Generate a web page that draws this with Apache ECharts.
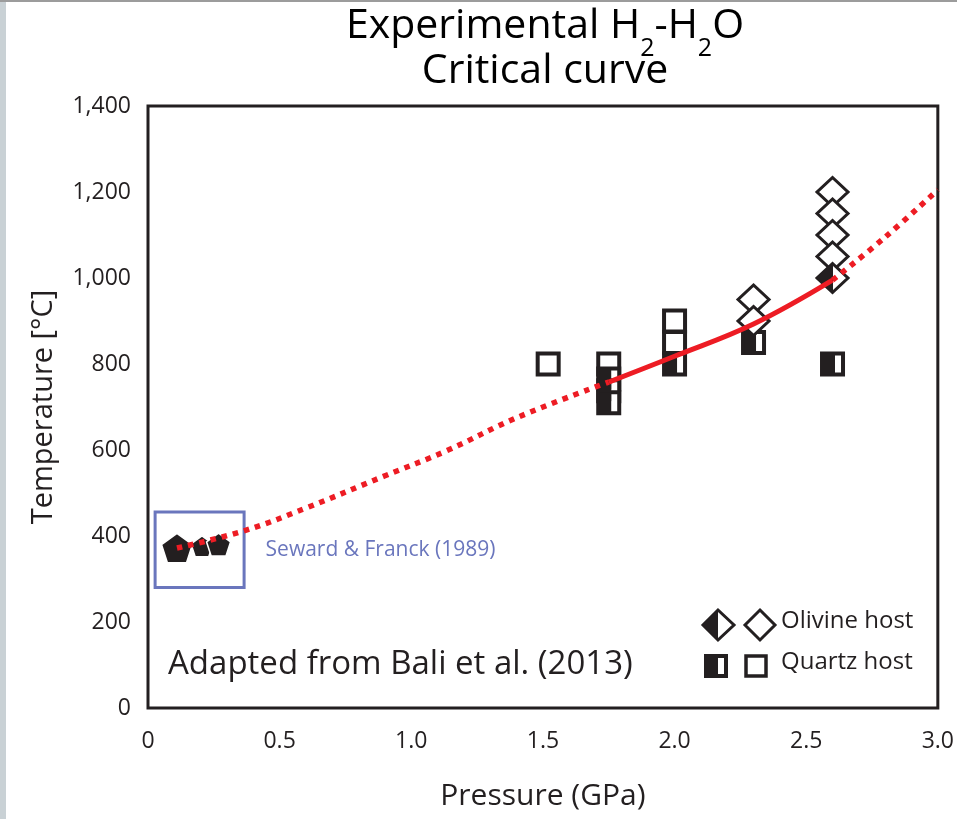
<!DOCTYPE html>
<html>
<head>
<meta charset="utf-8">
<script src="https://cdn.jsdelivr.net/npm/echarts@6/dist/echarts.min.js"></script>
<style>
  html, body { margin: 0; padding: 0; background: #fff; }
  #chart { width: 957px; height: 819px; }
</style>
</head>
<body>
<div id="chart"></div>
<script>
// quartz host, open squares
var quartzOpenP = [1.52, 1.75, 2.0, 2.0];
var quartzOpenT = [800, 800, 900, 850];
// quartz host, half-filled squares
var quartzHalfP = [1.75, 1.75, 1.75, 2.0, 2.3, 2.6];
var quartzHalfT = [765, 738, 710, 800, 850, 800];
// olivine host, open diamonds
var olivineOpenP = [2.3, 2.3, 2.6, 2.6, 2.6, 2.6];
var olivineOpenT = [950, 900, 1200, 1150, 1100, 1050];
// olivine host, half-filled diamonds
var olivineHalfP = [2.6];
var olivineHalfT = [1000];
// Seward & Franck (1989)
var sewardP = [0.11, 0.205, 0.268];
var sewardT = [372, 376, 380];
var sewardSize = [31, 22, 24];
// critical curve
var curveLowP = [0.11, 0.37, 0.6, 0.9, 1.13, 1.4, 1.75];
var curveLowT = [372, 413, 465, 540, 597, 675, 758];
var curveMidP = [1.75, 2.0, 2.3, 2.6];
var curveMidT = [758, 818, 893, 995];
var curveHighP = [2.6, 2.8, 3.0];
var curveHighT = [995, 1095, 1205];

var pressureTicks = ['0', '0.5', '1.0', '1.5', '2.0', '2.5', '3.0'];

var INK = '#231f20';
var RED = '#ed1c24';
var BLUE = '#6a76bd';
var FONT = 'Open Sans';

function pairs(xs, ys) {
    return xs.map(function (x, i) { return [x, ys[i]]; });
}

var openSquare = { symbol: 'rect', symbolSize: 21, itemStyle: { color: '#fff', borderColor: INK, borderWidth: 4, opacity: 1 } };
var openDiamond = { symbol: 'diamond', symbolSize: [31, 29], itemStyle: { color: '#fff', borderColor: INK, borderWidth: 3, opacity: 1 } };
var pentagon = 'path://M0,-1 L0.951,-0.309 L0.588,0.809 L-0.588,0.809 L-0.951,-0.309 Z';

function scatter(name, data, style) {
    return Object.assign({
        name: name,
        type: 'scatter',
        data: data,
        silent: true
    }, style);
}

var chart = echarts.init(document.getElementById('chart'), null, { renderer: 'canvas' });

var option = {
    backgroundColor: '#fff',
    animation: false,
    grid: {
        left: 148, right: 17, top: 106, bottom: 111,
        show: true, borderColor: INK, borderWidth: 3, backgroundColor: 'transparent'
    },
    xAxis: {
        type: 'value',
        min: 0, max: 3, interval: 0.5,
        splitLine: { show: false },
        axisLine: { show: false },
        axisTick: { show: false },
        axisLabel: {
            margin: 22, fontSize: 23, color: INK, fontFamily: FONT,
            formatter: function (v) { return pressureTicks[Math.round(v * 2)]; }
        },
        name: 'Pressure (GPa)',
        nameLocation: 'middle',
        nameGap: 73,
        nameTextStyle: { fontSize: 30, color: INK, fontFamily: FONT }
    },
    yAxis: {
        type: 'value',
        min: 0, max: 1400, interval: 200,
        splitLine: { show: false },
        axisLine: { show: false },
        axisTick: { show: false },
        axisLabel: {
            margin: 17, fontSize: 23, color: INK, fontFamily: FONT,
            formatter: function (v) { return v.toLocaleString('en-US'); }
        },
        name: 'Temperature [°C]',
        nameLocation: 'middle',
        nameGap: 90,
        nameTextStyle: { fontSize: 29, color: INK, fontFamily: FONT }
    },
    series: [
        scatter('seward', pairs(sewardP, sewardT).map(function (d, i) {
            return { value: d, symbolSize: [sewardSize[i], sewardSize[i] * 0.95] };
        }), {
            symbol: pentagon,
            itemStyle: { color: INK, borderColor: '#fff', borderWidth: 1.5, opacity: 1 },
            markArea: {
                silent: true,
                itemStyle: { color: 'transparent', borderColor: BLUE, borderWidth: 3 },
                label: {
                    show: true, position: 'right', distance: 20,
                    color: BLUE, fontSize: 21, fontFamily: FONT
                },
                data: [[{ name: 'Seward & Franck (1989)', coord: [0.027, 456] }, { coord: [0.365, 280] }]]
            }
        }),
        scatter('quartzOpen', pairs(quartzOpenP, quartzOpenT), openSquare),
        scatter('quartzHalf', pairs(quartzHalfP, quartzHalfT), openSquare),
        scatter('quartzHalfFill', pairs(quartzHalfP, quartzHalfT), {
            symbol: 'rect', symbolSize: [12, 21], symbolOffset: [-3.5, 0],
            itemStyle: { color: INK, opacity: 1 }
        }),
        scatter('olivineOpen', pairs(olivineOpenP, olivineOpenT), openDiamond),
        scatter('olivineHalf', pairs(olivineHalfP, olivineHalfT), openDiamond),
        scatter('olivineHalfFill', pairs(olivineHalfP, olivineHalfT), {
            symbol: 'path://M10,0 L0,10 L10,20 Z', symbolSize: [17, 31], symbolOffset: [-8, 0],
            itemStyle: { color: INK, opacity: 1 }
        }),
        {
            type: 'line', data: pairs(curveLowP, curveLowT), smooth: 0.4, symbol: 'none', silent: true,
            lineStyle: { color: RED, width: 5.5, type: [5.5, 6], cap: 'butt' }
        },
        {
            type: 'line', data: pairs(curveMidP, curveMidT), smooth: 0.4, symbol: 'none', silent: true,
            lineStyle: { color: RED, width: 5 }
        },
        {
            type: 'line', data: pairs(curveHighP, curveHighT), smooth: 0.4, symbol: 'none', silent: true,
            lineStyle: { color: RED, width: 5.5, type: [5.5, 6], cap: 'butt' }
        }
    ],
    graphic: [
        // page edge strips
        { type: 'rect', left: 0, top: 0, shape: { width: 6, height: 819 }, style: { fill: '#c9d1d5' }, silent: true },
        { type: 'rect', left: 0, top: 0, shape: { width: 957, height: 2 }, style: { fill: '#9c9c9c' }, silent: true },
        // title
        {
            type: 'text', x: 545, y: 4, silent: true,
            style: {
                text: '{a|Experimental H}{s|2}{a|-H}{s|2}{a|O}\n{a|Critical curve}',
                align: 'center',
                rich: {
                    a: { fontSize: 41, lineHeight: 45, color: INK, fontFamily: FONT },
                    s: { fontSize: 25, lineHeight: 45, color: INK, fontFamily: FONT, padding: [44, 0, 0, 0] }
                }
            }
        },
        {
            type: 'text', left: 168, top: 648, silent: true,
            style: { text: 'Adapted from Bali et al. (2013)', fontSize: 33, fill: INK, fontFamily: FONT }
        },
        // legend
        { type: 'polygon', silent: true, shape: { points: [[718, 610], [734, 625], [718, 640], [703, 625]] },
          style: { fill: '#fff', stroke: INK, lineWidth: 3 } },
        { type: 'polygon', silent: true, shape: { points: [[718, 610], [703, 625], [718, 640]] },
          style: { fill: INK } },
        { type: 'polygon', silent: true, shape: { points: [[760, 610], [775, 625], [760, 640], [745, 625]] },
          style: { fill: '#fff', stroke: INK, lineWidth: 3 } },
        { type: 'rect', silent: true, shape: { x: 706, y: 656, width: 20, height: 20 },
          style: { fill: '#fff', stroke: INK, lineWidth: 4 } },
        { type: 'rect', silent: true, shape: { x: 706, y: 656, width: 12, height: 20 },
          style: { fill: INK } },
        { type: 'rect', silent: true, shape: { x: 746, y: 656, width: 20, height: 20 },
          style: { fill: '#fff', stroke: INK, lineWidth: 3.5 } },
        {
            type: 'text', left: 781, top: 609, silent: true,
            style: { text: 'Olivine host', fontSize: 24, fill: INK, fontFamily: FONT }
        },
        {
            type: 'text', left: 781, top: 650, silent: true,
            style: { text: 'Quartz host', fontSize: 24, fill: INK, fontFamily: FONT }
        }
    ]
};

chart.setOption(option);
</script>
</body>
</html>
